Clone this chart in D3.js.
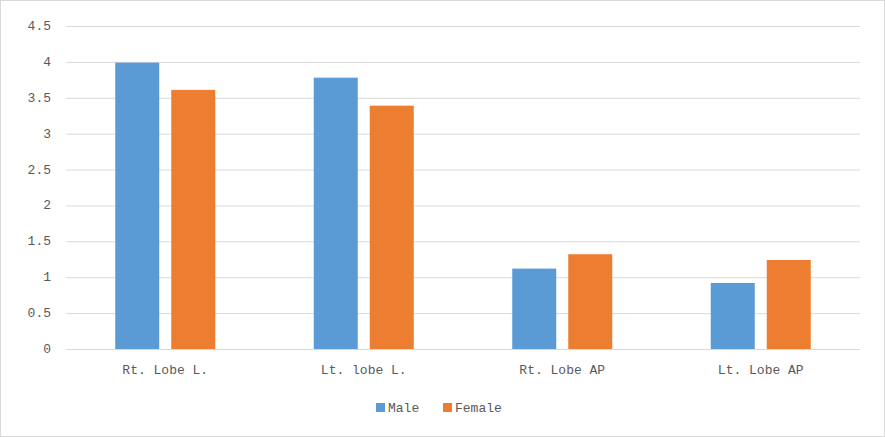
<!DOCTYPE html>
<html><head><meta charset="utf-8">
<script src="https://cdn.jsdelivr.net/npm/d3@7"></script>
<style>body{margin:0;background:#fff}</style></head>
<body><svg id="c" width="885" height="437"></svg>
<script>
const categories=["Rt. Lobe L.","Lt. lobe L.","Rt. Lobe AP","Lt. Lobe AP"];
const male=[3.99,3.78,1.12,0.92];
const female=[3.61,3.39,1.32,1.24];
const yTicks=[0,0.5,1,1.5,2,2.5,3,3.5,4,4.5];
const seriesNames=["Male","Female"];
const colors=["#5b9bd5","#ed7d31"];
const font="'Liberation Mono', 'DejaVu Sans Mono', monospace";

const svg=d3.select("#c");
svg.append("rect").attr("x",0.5).attr("y",0.5).attr("width",884).attr("height",436).attr("fill","#fff").attr("stroke","#d9d9d9");
const L=66,R=860,T=26,B=349;
const x=d3.scaleBand().domain(categories).range([L,R]);
const y=d3.scaleLinear().domain([0,4.5]).range([B,T]);
svg.append("g").selectAll("line").data(yTicks).join("line")
 .attr("x1",L).attr("x2",R).attr("y1",d=>y(d)+0.5).attr("y2",d=>y(d)+0.5).attr("stroke","#d9d9d9");
svg.append("g").selectAll("text").data(yTicks).join("text")
 .attr("x",51).attr("y",d=>y(d)+4).attr("text-anchor","end").attr("font-family",font).attr("font-size",13).attr("fill","#595959").text(d=>d);
const bw=44,gap=12;
[male,female].forEach((s,i)=>{
 svg.append("g").selectAll("rect").data(s).join("rect")
  .attr("x",(d,j)=>x(categories[j])+x.bandwidth()/2-bw-gap/2+i*(bw+gap))
  .attr("y",d=>y(d)).attr("width",bw).attr("height",d=>B-y(d)).attr("fill",colors[i]);
});
svg.append("g").selectAll("text").data(categories).join("text")
 .attr("x",d=>x(d)+x.bandwidth()/2).attr("y",374).attr("text-anchor","middle").attr("font-family",font).attr("font-size",13).attr("fill","#595959").text(d=>d);
const lg=svg.append("g");
const lx=[376,443];
seriesNames.forEach((n,i)=>{
 lg.append("rect").attr("x",lx[i]).attr("y",403).attr("width",9).attr("height",9).attr("fill",colors[i]);
 lg.append("text").attr("x",lx[i]+12).attr("y",412).attr("font-family",font).attr("font-size",13).attr("fill","#595959").text(n);
});
</script></body></html>
